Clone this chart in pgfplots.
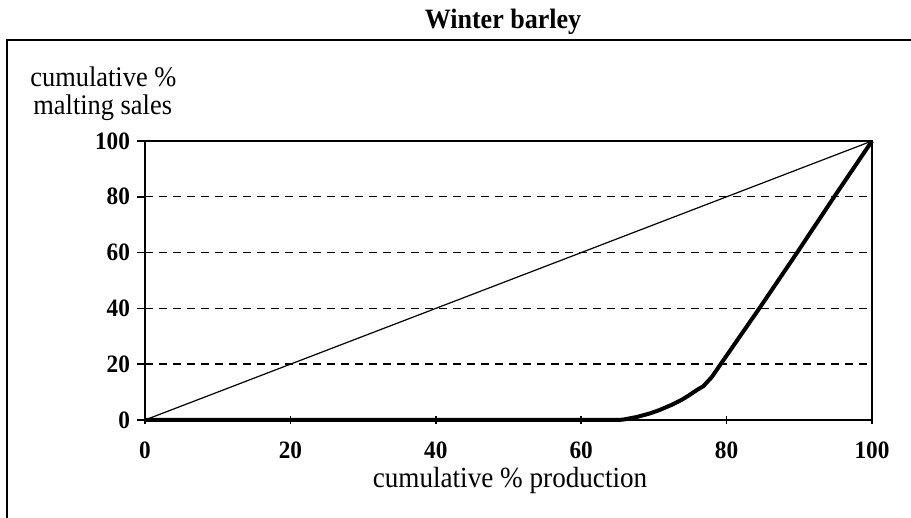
\documentclass[border=0pt]{standalone}
\usepackage{fontspec}
\setmainfont{Liberation Serif}
\newfontfamily\cf{Liberation Serif}[FakeStretch=0.93]
\usepackage{pgfplots}
\pgfplotsset{compat=1.18}
\begin{document}
\begin{tikzpicture}
\useasboundingbox (0,0) rectangle (455.5pt,259pt);
% outer frame (left and top edges)
\draw[line width=0.75pt] (3.5pt,0pt) -- (3.5pt,239pt) -- (455.5pt,239pt);
\node[anchor=base, font=\cf\bfseries\fontsize{14}{16}\selectfont] at (251.5pt,244.5pt) {Winter barley};
\node[anchor=base west, font=\cf\fontsize{14.2}{16}\selectfont, inner sep=0pt] at (15pt,215.5pt) {cumulative \%};
\node[anchor=base west, font=\cf\fontsize{14.2}{16}\selectfont, inner sep=0pt] at (16.5pt,201.5pt) {malting sales};
\node[anchor=base, font=\cf\fontsize{14.6}{17}\selectfont] at (255pt,15pt) {cumulative \% production};
\begin{axis}[
  at={(72.5pt,49pt)}, anchor=south west,
  scale only axis, width=363.5pt, height=139.5pt,
  xmin=0, xmax=100, ymin=0, ymax=100,
  xtick={0,20,40,60,80,100}, ytick={0,20,40,60,80,100},
  axis line style={line width=1pt},
  every tick/.style={black, line width=0.8pt},
  major tick length=4pt,
  xtick align=center, ytick align=outside,
  xtick pos=bottom, ytick pos=left,
  /pgf/number format/assume math mode=true,
  ticklabel style={font=\cf\bfseries\fontsize{12.5}{14}\selectfont},
  xticklabel style={anchor=base, yshift=-17.5pt},
  clip=false,
]
\foreach \g in {20,40,60,80}{
  \edef\temp{\noexpand\addplot[black, line width=0.7pt, dash pattern=on 4pt off 3pt, forget plot] coordinates {(0,\g) (100,\g)};}
  \temp
}
\addplot[black, line width=0.6pt] coordinates {(0,0) (100,100)};
\addplot[black, line width=2pt, line join=round] coordinates {
(0,0) (64,0) (65.7,0.1) (67.7,1.1) (69.5,2.4) (70.8,3.6) (72.5,5.5) (73.8,7.2) (74.8,8.8) (76,10.9) (76.8,12.1) (78,15.5) (79.1,19.7) (84.5,40) (89.7,60) (94.8,80) (100,100)
};
\end{axis}
\end{tikzpicture}
\end{document}
